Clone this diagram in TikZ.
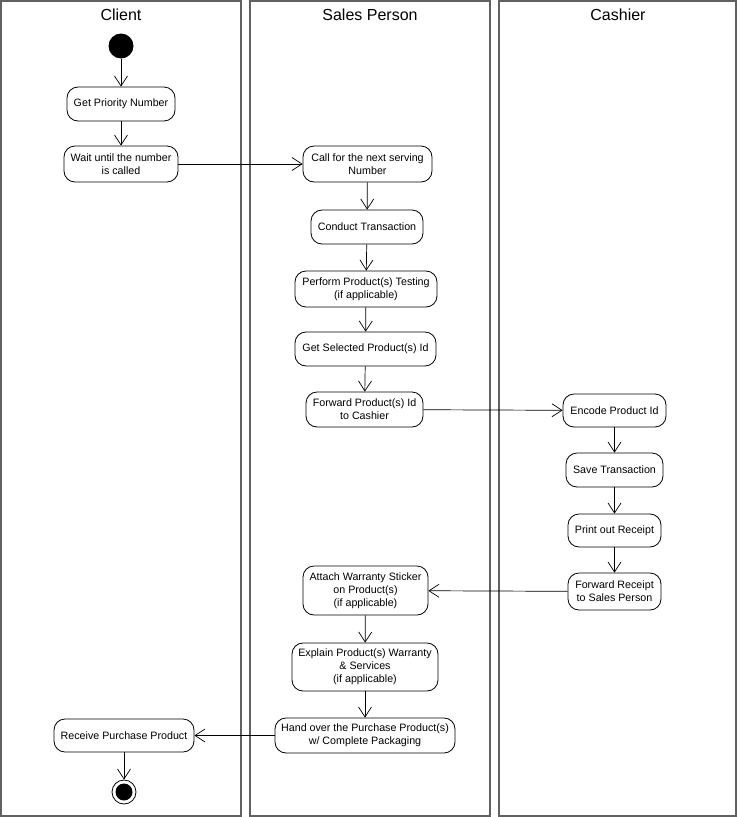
\documentclass[tikz,border=0pt]{standalone}
\usepackage{fontspec}
\setmainfont{Liberation Sans}
\usetikzlibrary{arrows.meta}
\begin{document}
\begin{tikzpicture}[x=1pt,y=-1pt,
  lane/.style={draw=black!62, line width=1.4pt},
  act/.style={draw=black, line width=0.8pt, rounded corners=11pt, align=center,
    font=\fontsize{10.7}{13}\selectfont, inner sep=0pt},
  flow/.style={-{Straight Barb[length=10pt,width=13pt]}, line width=0.7pt},
  head/.style={font=\fontsize{16}{19}\selectfont}]
\useasboundingbox (0,0) rectangle (740,817);
% lanes
\draw[lane] (1,1) rectangle (241,816);
\draw[lane] (250,1) rectangle (490,816);
\draw[lane] (499,1) rectangle (736,816);
\node[head] (hc) at (121,15) {Client};
\node[head] (hs) at (370,15) {Sales Person};
\node[head] (hk) at (618,15) {Cashier};
% start
\node[circle, fill=black, minimum size=25pt, inner sep=0pt] (start) at (121,46) {};
% client
\node[act, minimum width=108pt, minimum height=34pt] (gpn) at (121,104) {Get Priority Number};
\node[act, minimum width=114pt, minimum height=36pt] (wait) at (121,164) {Wait until the number\\is called};
\node[act, minimum width=140pt, minimum height=33pt] (recv) at (124,735.5) {Receive Purchase Product};
\node[circle, draw=black, line width=0.8pt, minimum size=24pt, inner sep=0pt] (end) at (124,792) {};
\fill[black] (end.center) circle (8.5pt);
% sales
\node[act, minimum width=129pt, minimum height=36pt] (call) at (367.5,164) {Call for the next serving\\Number};
\node[act, minimum width=112pt, minimum height=34pt] (cond) at (367,227) {Conduct Transaction};
\node[act, minimum width=142pt, minimum height=36pt] (perf) at (366,289) {Perform Product(s) Testing\\(if applicable)};
\node[act, minimum width=141pt, minimum height=34pt] (gsel) at (365.5,349) {Get Selected Product(s) Id};
\node[act, minimum width=117pt, minimum height=35pt] (fwdp) at (364.5,409.5) {Forward Product(s) Id\\to Cashier};
\node[act, minimum width=125pt, minimum height=49pt] (att) at (365.5,590.5) {Attach Warranty Sticker\\on Product(s)\\(if applicable)};
\node[act, minimum width=146pt, minimum height=48pt] (expl) at (365,667) {Explain Product(s) Warranty\\\& Services\\(if applicable)};
\node[act, minimum width=180pt, minimum height=35pt] (hand) at (365,735.5) {Hand over the Purchase Product(s)\\w/ Complete Packaging};
% cashier
\node[act, minimum width=103pt, minimum height=33pt] (enc) at (614.5,410.5) {Encode Product Id};
\node[act, minimum width=97pt, minimum height=34pt] (save) at (614.5,470) {Save Transaction};
\node[act, minimum width=93pt, minimum height=33pt] (prt) at (614.5,530.5) {Print out Receipt};
\node[act, minimum width=93pt, minimum height=37pt] (fwdr) at (614.5,591.5) {Forward Receipt\\to Sales Person};
% flows
\draw[flow] (start) -- (gpn);
\draw[flow] (gpn) -- (wait);
\draw[flow] (wait) -- (call);
\draw[flow] (call) -- (cond);
\draw[flow] (cond) -- (perf);
\draw[flow] (perf) -- (gsel);
\draw[flow] (gsel) -- (fwdp);
\draw[flow] (fwdp) -- (enc);
\draw[flow] (enc) -- (save);
\draw[flow] (save) -- (prt);
\draw[flow] (prt) -- (fwdr);
\draw[flow] (fwdr) -- (att);
\draw[flow] (att) -- (expl);
\draw[flow] (expl) -- (hand);
\draw[flow] (hand) -- (recv);
\draw[flow] (recv) -- (end);
\end{tikzpicture}
\end{document}
